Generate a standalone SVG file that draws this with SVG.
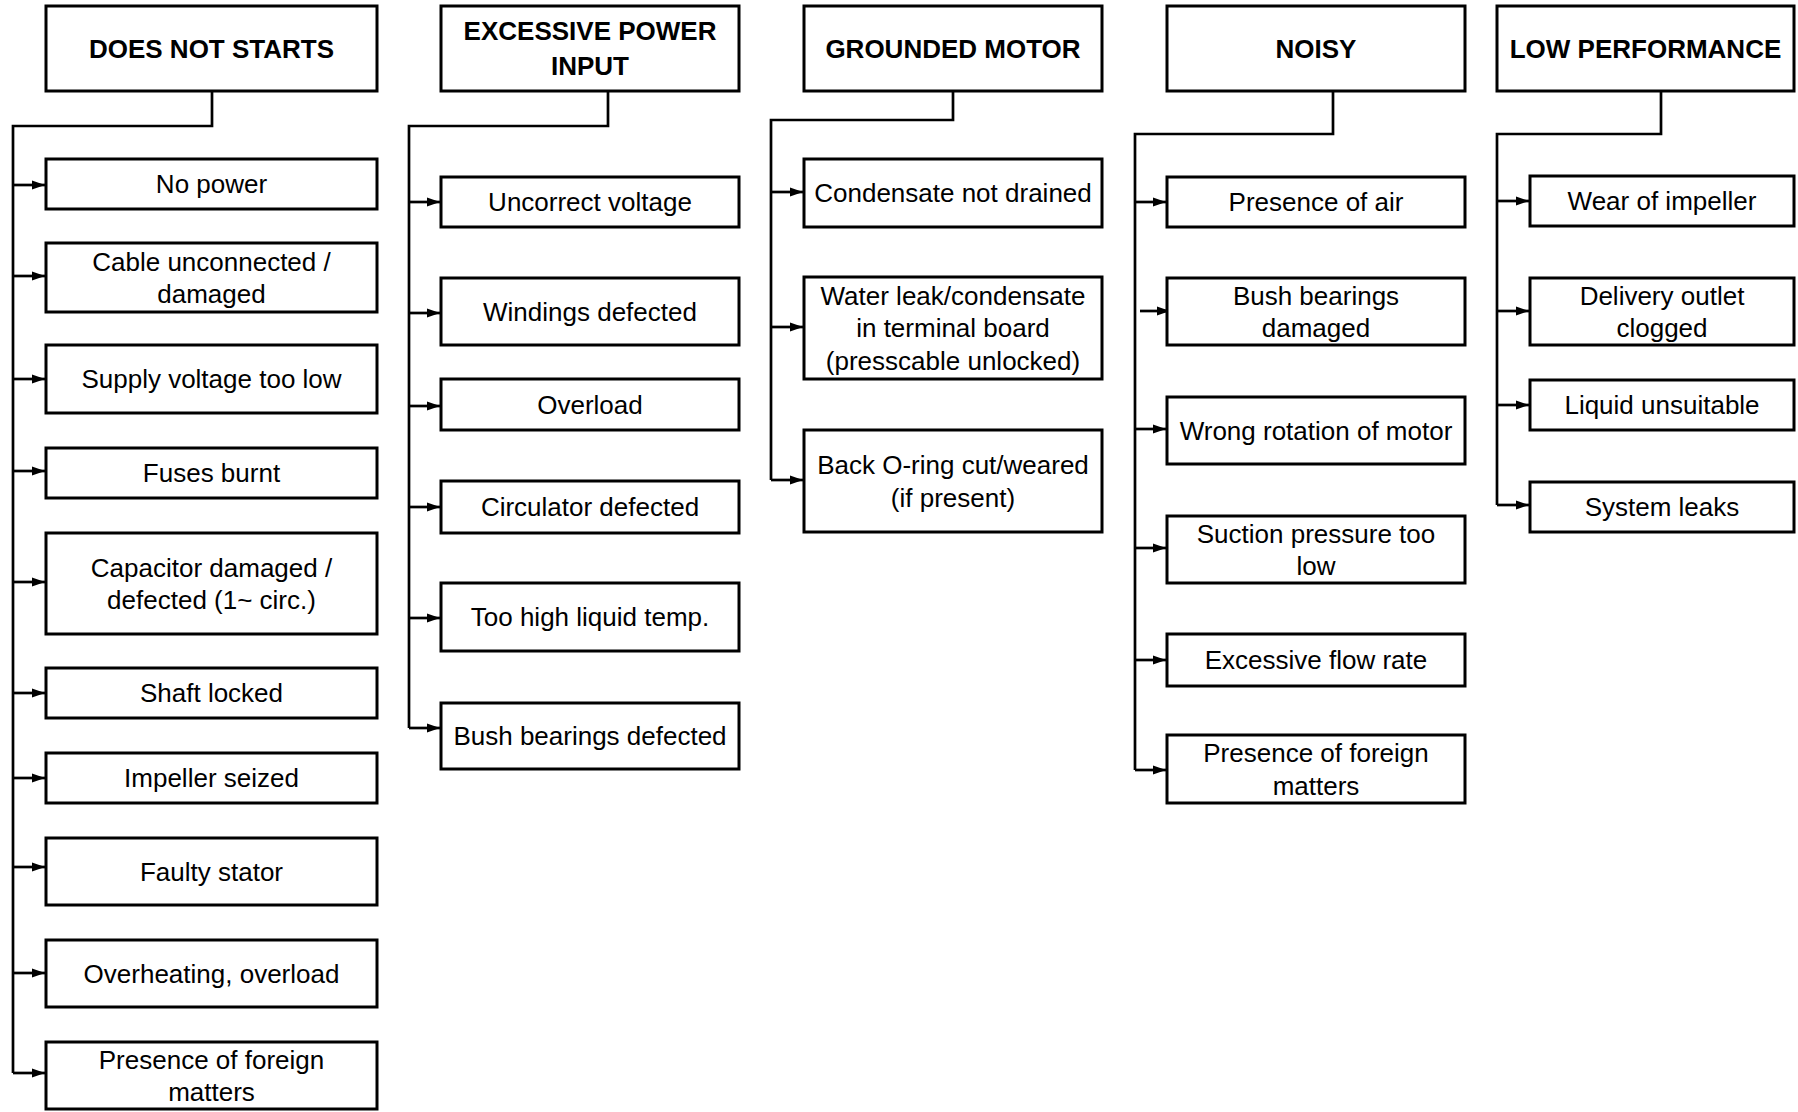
<svg xmlns="http://www.w3.org/2000/svg" width="1798" height="1112" viewBox="0 0 1798 1112">
<style>
.box{fill:#fff;stroke:#000;stroke-width:3}
.t{font-family:"Liberation Sans",Arial,sans-serif;font-size:26px;fill:#000;text-anchor:middle}
.h{font-family:"Liberation Sans",Arial,sans-serif;font-size:26px;font-weight:bold;fill:#000;text-anchor:middle}
.ln{fill:none;stroke:#000;stroke-width:2.7}
.ar{fill:none;stroke:#000;stroke-width:2.7;marker-end:url(#ah)}
</style>
<defs>
<marker id="ah" markerUnits="userSpaceOnUse" markerWidth="14" markerHeight="12" refX="13" refY="6" orient="auto">
<path d="M0,1.5 L13,6 L0,10.5 Z" fill="#000"/>
</marker>
</defs>
<rect width="1798" height="1112" fill="#fff"/>
<g id="connectors">
<path class="ln" d="M212,91 V126 H13 V1073"/>
<path class="ar" d="M13,185 H45"/>
<path class="ar" d="M13,276 H45"/>
<path class="ar" d="M13,379 H45"/>
<path class="ar" d="M13,471 H45"/>
<path class="ar" d="M13,582 H45"/>
<path class="ar" d="M13,693 H45"/>
<path class="ar" d="M13,778 H45"/>
<path class="ar" d="M13,867 H45"/>
<path class="ar" d="M13,973 H45"/>
<path class="ar" d="M13,1073 H45"/>
<path class="ln" d="M608,91 V126 H409 V728"/>
<path class="ar" d="M409,202 H440"/>
<path class="ar" d="M409,313 H440"/>
<path class="ar" d="M409,406 H440"/>
<path class="ar" d="M409,507 H440"/>
<path class="ar" d="M409,618 H440"/>
<path class="ar" d="M409,728 H440"/>
<path class="ln" d="M953,91 V120 H771 V480"/>
<path class="ar" d="M771,192 H803"/>
<path class="ar" d="M771,327 H803"/>
<path class="ar" d="M771,480 H803"/>
<path class="ln" d="M1333,91 V134 H1135 V770"/>
<path class="ar" d="M1135,202 H1166"/>
<path class="ar" d="M1140,311 H1170"/>
<path class="ar" d="M1135,429 H1166"/>
<path class="ar" d="M1135,548 H1166"/>
<path class="ar" d="M1135,660 H1166"/>
<path class="ar" d="M1135,770 H1166"/>
<path class="ln" d="M1661,91 V134 H1497 V505"/>
<path class="ar" d="M1497,201 H1529"/>
<path class="ar" d="M1497,311 H1529"/>
<path class="ar" d="M1497,405 H1529"/>
<path class="ar" d="M1497,505 H1529"/>
</g>
<g id="h1"><rect class="box" x="46" y="6" width="331" height="85"/><text class="h" x="211.5" y="57.5">DOES NOT STARTS</text></g>
<g id="n1a"><rect class="box" x="46" y="159" width="331" height="50"/><text class="t" x="211.5" y="193.3">No power</text></g>
<g id="n1b"><rect class="box" x="46" y="243" width="331" height="69"/><text class="t" x="211.5" y="270.5">Cable unconnected /</text><text class="t" x="211.5" y="303.2">damaged</text></g>
<g id="n1c"><rect class="box" x="46" y="345" width="331" height="68"/><text class="t" x="211.5" y="388.3">Supply voltage too low</text></g>
<g id="n1d"><rect class="box" x="46" y="448" width="331" height="50"/><text class="t" x="211.5" y="482.3">Fuses burnt</text></g>
<g id="n1e"><rect class="box" x="46" y="533" width="331" height="101"/><text class="t" x="211.5" y="576.5">Capacitor damaged /</text><text class="t" x="211.5" y="609.2">defected (1~ circ.)</text></g>
<g id="n1f"><rect class="box" x="46" y="668" width="331" height="50"/><text class="t" x="211.5" y="702.3">Shaft locked</text></g>
<g id="n1g"><rect class="box" x="46" y="753" width="331" height="50"/><text class="t" x="211.5" y="787.3">Impeller seized</text></g>
<g id="n1h"><rect class="box" x="46" y="838" width="331" height="67"/><text class="t" x="211.5" y="880.8">Faulty stator</text></g>
<g id="n1i"><rect class="box" x="46" y="940" width="331" height="67"/><text class="t" x="211.5" y="982.8">Overheating, overload</text></g>
<g id="n1j"><rect class="box" x="46" y="1042" width="331" height="67"/><text class="t" x="211.5" y="1068.5">Presence of foreign</text><text class="t" x="211.5" y="1101.2">matters</text></g>
<g id="h2"><rect class="box" x="441" y="6" width="298" height="85"/><text class="h" x="590" y="40">EXCESSIVE POWER</text><text class="h" x="590" y="75">INPUT</text></g>
<g id="n2a"><rect class="box" x="441" y="177" width="298" height="50"/><text class="t" x="590" y="211.3">Uncorrect voltage</text></g>
<g id="n2b"><rect class="box" x="441" y="278" width="298" height="67"/><text class="t" x="590" y="320.8">Windings defected</text></g>
<g id="n2c"><rect class="box" x="441" y="379" width="298" height="51"/><text class="t" x="590" y="413.8">Overload</text></g>
<g id="n2d"><rect class="box" x="441" y="481" width="298" height="52"/><text class="t" x="590" y="516.3">Circulator defected</text></g>
<g id="n2e"><rect class="box" x="441" y="583" width="298" height="68"/><text class="t" x="590" y="626.3">Too high liquid temp.</text></g>
<g id="n2f"><rect class="box" x="441" y="703" width="298" height="66"/><text class="t" x="590" y="745.3">Bush bearings defected</text></g>
<g id="h3"><rect class="box" x="804" y="6" width="298" height="85"/><text class="h" x="953" y="57.5">GROUNDED MOTOR</text></g>
<g id="n3a"><rect class="box" x="804" y="159" width="298" height="68"/><text class="t" x="953" y="202.3">Condensate not drained</text></g>
<g id="n3b"><rect class="box" x="804" y="277" width="298" height="102"/><text class="t" x="953" y="304.6">Water leak/condensate</text><text class="t" x="953" y="337.3">in terminal board</text><text class="t" x="953" y="370">(presscable unlocked)</text></g>
<g id="n3c"><rect class="box" x="804" y="430" width="298" height="102"/><text class="t" x="953" y="474">Back O-ring cut/weared</text><text class="t" x="953" y="506.7">(if present)</text></g>
<g id="h4"><rect class="box" x="1167" y="6" width="298" height="85"/><text class="h" x="1316" y="57.5">NOISY</text></g>
<g id="n4a"><rect class="box" x="1167" y="177" width="298" height="50"/><text class="t" x="1316" y="211.3">Presence of air</text></g>
<g id="n4b"><rect class="box" x="1167" y="278" width="298" height="67"/><text class="t" x="1316" y="304.5">Bush bearings</text><text class="t" x="1316" y="337.2">damaged</text></g>
<g id="n4c"><rect class="box" x="1167" y="397" width="298" height="67"/><text class="t" x="1316" y="439.8">Wrong rotation of motor</text></g>
<g id="n4d"><rect class="box" x="1167" y="516" width="298" height="67"/><text class="t" x="1316" y="542.5">Suction pressure too</text><text class="t" x="1316" y="575.2">low</text></g>
<g id="n4e"><rect class="box" x="1167" y="634" width="298" height="52"/><text class="t" x="1316" y="669.3">Excessive flow rate</text></g>
<g id="n4f"><rect class="box" x="1167" y="735" width="298" height="68"/><text class="t" x="1316" y="762">Presence of foreign</text><text class="t" x="1316" y="794.7">matters</text></g>
<g id="h5"><rect class="box" x="1497" y="6" width="297" height="85"/><text class="h" x="1645.5" y="57.5">LOW PERFORMANCE</text></g>
<g id="n5a"><rect class="box" x="1530" y="176" width="264" height="50"/><text class="t" x="1662" y="210.3">Wear of impeller</text></g>
<g id="n5b"><rect class="box" x="1530" y="278" width="264" height="67"/><text class="t" x="1662" y="304.5">Delivery outlet</text><text class="t" x="1662" y="337.2">clogged</text></g>
<g id="n5c"><rect class="box" x="1530" y="380" width="264" height="50"/><text class="t" x="1662" y="414.3">Liquid unsuitable</text></g>
<g id="n5d"><rect class="box" x="1530" y="482" width="264" height="50"/><text class="t" x="1662" y="516.3">System leaks</text></g>
</svg>
